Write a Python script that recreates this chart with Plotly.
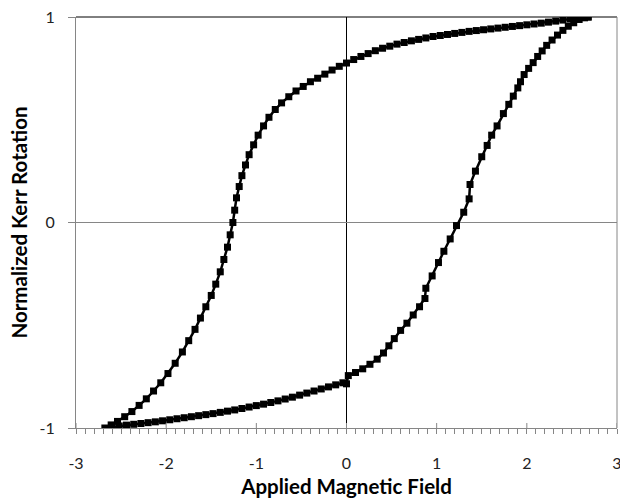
import plotly.graph_objects as go

# Upper branch (field sweeping from + to -)
upper_x = [2.68, 2.62, 2.55, 2.48, 2.40, 2.32, 2.24, 2.16, 2.08, 2.00, 1.92, 1.84, 1.76, 1.68,
           1.60, 1.52, 1.44, 1.36, 1.28, 1.20, 1.12, 1.04, 0.96, 0.88, 0.80, 0.72, 0.64, 0.56,
           0.48, 0.40, 0.32, 0.24, 0.16, 0.08, 0.00, -0.08, -0.16, -0.24, -0.32, -0.40, -0.48,
           -0.56, -0.64, -0.72, -0.79, -0.86, -0.92, -0.98, -1.03, -1.08, -1.12, -1.16, -1.19,
           -1.22, -1.24, -1.26, -1.29, -1.32, -1.36, -1.40, -1.45, -1.50, -1.56, -1.62, -1.68,
           -1.75, -1.82, -1.90, -1.98, -2.06, -2.14, -2.22, -2.30, -2.38, -2.46, -2.54, -2.61, -2.68]
upper_y = [1.000, 0.998, 0.995, 0.990, 0.985, 0.980, 0.975, 0.970, 0.966, 0.962, 0.958, 0.954,
           0.950, 0.946, 0.942, 0.938, 0.934, 0.930, 0.925, 0.920, 0.915, 0.910, 0.905, 0.898,
           0.891, 0.884, 0.876, 0.868, 0.858, 0.848, 0.836, 0.822, 0.808, 0.793, 0.776, 0.760,
           0.742, 0.722, 0.702, 0.685, 0.662, 0.640, 0.612, 0.582, 0.550, 0.512, 0.470, 0.425,
           0.378, 0.330, 0.280, 0.228, 0.175, 0.120, 0.060, 0.000, -0.060, -0.120, -0.180,
           -0.240, -0.300, -0.355, -0.410, -0.465, -0.520, -0.575, -0.630, -0.685, -0.735,
           -0.780, -0.820, -0.858, -0.890, -0.920, -0.945, -0.968, -0.985, -1.000]

# Lower branch (field sweeping from - to +)
lower_x = [-2.68, -2.60, -2.52, -2.44, -2.36, -2.28, -2.20, -2.12, -2.04, -1.96, -1.88, -1.80,
           -1.72, -1.64, -1.56, -1.48, -1.40, -1.32, -1.24, -1.16, -1.08, -1.00, -0.92, -0.84,
           -0.76, -0.68, -0.60, -0.52, -0.44, -0.36, -0.28, -0.20, -0.12, -0.04, 0.00, 0.02,
           0.10, 0.18, 0.26, 0.34, 0.41, 0.47, 0.53, 0.60, 0.67, 0.74, 0.81, 0.87, 0.88, 0.95,
           1.02, 1.08, 1.15, 1.22, 1.30, 1.36, 1.37, 1.43, 1.50, 1.56, 1.61, 1.67, 1.74, 1.80,
           1.85, 1.90, 1.93, 1.97, 2.02, 2.07, 2.12, 2.17, 2.22, 2.28, 2.34, 2.40, 2.46, 2.52,
           2.58, 2.64, 2.68]
lower_y = [-1.000, -0.995, -0.990, -0.986, -0.982, -0.978, -0.974, -0.970, -0.965, -0.960,
           -0.955, -0.950, -0.945, -0.940, -0.935, -0.930, -0.924, -0.918, -0.912, -0.905,
           -0.898, -0.891, -0.884, -0.876, -0.868, -0.859, -0.850, -0.840, -0.830, -0.820,
           -0.810, -0.800, -0.790, -0.780, -0.785, -0.745, -0.730, -0.712, -0.690, -0.665,
           -0.635, -0.600, -0.565, -0.525, -0.490, -0.450, -0.410, -0.370, -0.320, -0.260,
           -0.195, -0.140, -0.080, -0.015, 0.050, 0.115, 0.185, 0.250, 0.320, 0.375, 0.425,
           0.470, 0.530, 0.575, 0.615, 0.655, 0.685, 0.720, 0.750, 0.778, 0.808, 0.835, 0.862,
           0.888, 0.912, 0.935, 0.955, 0.972, 0.988, 0.996, 1.000]

x_ticks = [-3, -2, -1, 0, 1, 2, 3]
y_ticks = [-1, 0, 1]

AXIS_GRAY = "#868686"
FONT = "Lato, 'Open Sans', sans-serif"

fig = go.Figure()
fig.add_trace(go.Scatter(
    x=upper_x + lower_x[1:], y=upper_y + lower_y[1:],
    mode="lines+markers",
    line=dict(color="black", width=2.5),
    marker=dict(symbol="square", size=7, color="black"),
    showlegend=False,
))

shapes = []
# top border (black) and right border (gray)
shapes.append(dict(type="line", xref="paper", yref="paper", x0=0, x1=1, y0=1, y1=1,
                   line=dict(color="black", width=1)))
shapes.append(dict(type="line", xref="paper", yref="paper", x0=1, x1=1, y0=0, y1=1,
                   line=dict(color=AXIS_GRAY, width=1)))
# inside half of crossing major ticks on the x axis
for t in x_ticks:
    shapes.append(dict(type="line", xref="x", yref="y", ysizemode="pixel", yanchor=-1,
                       x0=t, x1=t, y0=0, y1=5, line=dict(color=AXIS_GRAY, width=1)))

fig.update_layout(
    width=620, height=504,
    margin=dict(l=76, r=3, t=17, b=76, autoexpand=False),
    paper_bgcolor="white", plot_bgcolor="white",
    font=dict(family=FONT, color="black"),
    shapes=shapes,
    xaxis=dict(
        range=[-3, 3], tickvals=x_ticks, ticktext=[str(t) for t in x_ticks],
        automargin=False,
        showgrid=False, zeroline=True, zerolinecolor="black", zerolinewidth=1,
        showline=True, linecolor=AXIS_GRAY, linewidth=1,
        ticks="outside", ticklen=5, tickcolor=AXIS_GRAY, tickwidth=1,
        minor=dict(dtick=0.1, ticks="outside", ticklen=5, tickcolor=AXIS_GRAY, tickwidth=1),
        tickfont=dict(size=16, family=FONT, color="#222222"),
        ticklabelstandoff=16, ticklabeloverflow="allow",
        title=dict(text="<b>Applied Magnetic Field</b>", font=dict(size=20.5, family=FONT),
                   standoff=8),
    ),
    yaxis=dict(
        range=[-1, 1], tickvals=y_ticks, ticktext=[str(t) for t in y_ticks],
        automargin=False,
        showgrid=False, zeroline=True, zerolinecolor=AXIS_GRAY, zerolinewidth=1,
        showline=True, linecolor=AXIS_GRAY, linewidth=1,
        ticks="outside", ticklen=7, tickcolor=AXIS_GRAY, tickwidth=1,
        tickfont=dict(size=16, family=FONT, color="#222222"),
        ticklabelstandoff=10,
        title=dict(text="<b>Normalized Kerr Rotation</b>", font=dict(size=20.5, family=FONT),
                   standoff=6),
    ),
)

fig.write_html("out.html")
